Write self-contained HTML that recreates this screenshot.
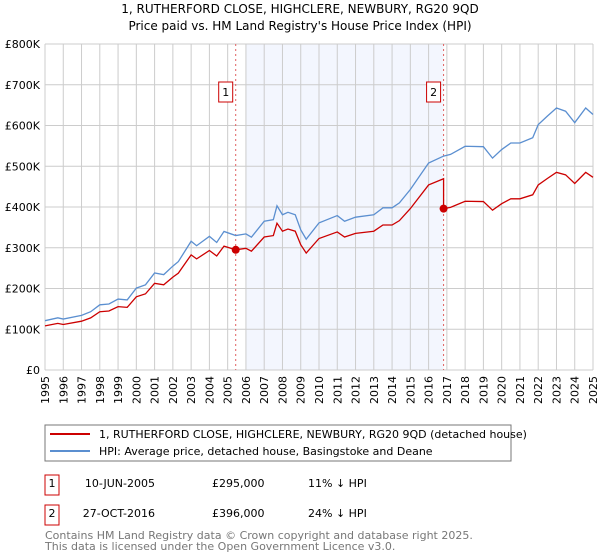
<!DOCTYPE html>
<html><head><meta charset="utf-8"><style>
body{margin:0;background:#fff;}
svg{display:block;font-family:"DejaVu Sans","Liberation Sans",sans-serif;}
</style></head><body>
<svg id="chart" width="600" height="560" viewBox="0 0 600 560" xmlns="http://www.w3.org/2000/svg">
<text x="300" y="13" text-anchor="middle" font-size="12">1, RUTHERFORD CLOSE, HIGHCLERE, NEWBURY, RG20 9QD</text>
<text x="300" y="30" text-anchor="middle" font-size="12">Price paid vs. HM Land Registry's House Price Index (HPI)</text>
<g id="plot"></g>
<g>
<rect x="45" y="425" width="466" height="36" fill="#fff" stroke="#777"/>
<line x1="50" y1="434" x2="90" y2="434" stroke="#cc0000" stroke-width="2"/>
<text x="99" y="438" font-size="11">1, RUTHERFORD CLOSE, HIGHCLERE, NEWBURY, RG20 9QD (detached house)</text>
<line x1="50" y1="451" x2="90" y2="451" stroke="#5b8fd0" stroke-width="2"/>
<text x="99" y="455" font-size="11">HPI: Average price, detached house, Basingstoke and Deane</text>
</g>
<g font-size="11">
<rect x="45" y="475" width="14" height="20" fill="#fff" stroke="#cc0000"/>
<text x="52" y="487" text-anchor="middle">1</text>
<text x="155" y="487" text-anchor="end">10-JUN-2005</text>
<text x="212" y="487">£295,000</text>
<text x="308" y="487">11% ↓ HPI</text>
<rect x="45" y="505" width="14" height="20" fill="#fff" stroke="#cc0000"/>
<text x="52" y="517" text-anchor="middle">2</text>
<text x="155" y="517" text-anchor="end">27-OCT-2016</text>
<text x="212" y="517">£396,000</text>
<text x="308" y="517">24% ↓ HPI</text>
</g>
<text x="45" y="539" font-size="11" fill="#777">Contains HM Land Registry data © Crown copyright and database right 2025.</text>
<text x="45" y="550" font-size="11" fill="#777">This data is licensed under the Open Government Licence v3.0.</text>
</svg>
<script>
const hpiYears=[1995,1995.7,1996,1997,1997.5,1998,1998.5,1999,1999.5,2000,2000.5,2001,2001.5,2002,2002.3,2003,2003.3,2004,2004.4,2004.8,2005.44,2006,2006.3,2007,2007.5,2007.7,2008,2008.3,2008.7,2009,2009.3,2010,2011,2011.4,2012,2013,2013.5,2014,2014.4,2015,2016,2016.82,2017.2,2018,2019,2019.5,2020,2020.5,2021,2021.7,2022,2022.5,2023,2023.5,2024,2024.6,2025];
const hpiValues=[121,128,125,134,143,160,162,174,172,201,209,238,234,255,266,316,305,328,313,340,330,334,326,365,369,403,381,387,381,344,321,361,379,365,375,381,398,398,410,443,508,525,529,549,548,520,541,557,557,570,602,623,643,635,607,643,627];
const saleYears=[2005.44,2016.82];
const salePrices=[295,396];
const saleLabels=["1","2"];
const yTicks=[0,100,200,300,400,500,600,700,800];
const yTickLabels=["£0","£100K","£200K","£300K","£400K","£500K","£600K","£700K","£800K"];
const xTicks=[1995,1996,1997,1998,1999,2000,2001,2002,2003,2004,2005,2006,2007,2008,2009,2010,2011,2012,2013,2014,2015,2016,2017,2018,2019,2020,2021,2022,2023,2024,2025];

const X0=45,X1=593,Y0=370,Y1=44;
const xs=y=>X0+(y-1995)/30*(X1-X0);
const ys=v=>Y0-v/800*(Y0-Y1);
const NS="http://www.w3.org/2000/svg";
const g=document.getElementById('plot');
function mk(t,a,p){const e=document.createElementNS(NS,t);for(const k in a)e.setAttribute(k,a[k]);(p||g).appendChild(e);return e;}
function hpiAt(y){for(let i=0;i<hpiYears.length-1;i++){if(y<=hpiYears[i+1]){const t=(y-hpiYears[i])/(hpiYears[i+1]-hpiYears[i]);return hpiValues[i]+t*(hpiValues[i+1]-hpiValues[i]);}}return hpiValues[hpiValues.length-1];}

const shadeStart=Math.ceil(saleYears[0]);
let sh=mk('rect',{x:xs(shadeStart),y:Y1,width:xs(saleYears[1])-xs(shadeStart),height:Y0-Y1,fill:'#f3f6fe'});


xTicks.forEach((t,i)=>{
 let l=mk('line',{x1:xs(t),x2:xs(t),y1:Y1,y2:Y0,stroke:'#cccccc','stroke-width':1});
 
 
 let tx=mk('text',{x:0,y:0,'font-size':11,'text-anchor':'end',transform:`translate(${xs(t)+4},${Y0+6}) rotate(-90)`});
 tx.textContent=t;
 
 
});
yTicks.forEach((v,i)=>{
 let l=mk('line',{x1:X0,x2:X1,y1:ys(v),y2:ys(v),stroke:'#cccccc','stroke-width':1});
 
 
 let tx=mk('text',{x:40,y:ys(v)+4,'font-size':11,'text-anchor':'end'});
 tx.textContent=yTickLabels[i];
 
 
});
saleYears.forEach((y,i)=>{
 let l=mk('line',{x1:xs(y),x2:xs(y),y1:Y1,y2:Y0,stroke:'#e06060','stroke-width':1,'stroke-dasharray':'2,3'});
 
 
 let b=mk('rect',{x:xs(y)-17,y:82,width:14,height:20,fill:'#fff',stroke:'#cc0000'});
 
 
 let t=mk('text',{x:xs(y)-10,y:96,'font-size':11,'text-anchor':'middle'});
 t.textContent=saleLabels[i];
 
 
});
let hp=mk('polyline',{points:hpiYears.map((y,i)=>xs(y)+','+ys(hpiValues[i])).join(' '),fill:'none',stroke:'#5b8fd0','stroke-width':1.3});


const r0=salePrices[0]/hpiAt(saleYears[0]);
const r1=salePrices[1]/hpiAt(saleYears[1]);
let pts=[];
hpiYears.forEach((y,i)=>{ if(y<saleYears[1]) pts.push([y,hpiValues[i]*r0]); });
pts.push([saleYears[1],hpiAt(saleYears[1])*r0]);
pts.push([saleYears[1],salePrices[1]]);
hpiYears.forEach((y,i)=>{ if(y>saleYears[1]) pts.push([y,hpiValues[i]*r1]); });
let pl=mk('polyline',{points:pts.map(p=>xs(p[0])+','+ys(p[1])).join(' '),fill:'none',stroke:'#cc0000','stroke-width':1.3});


saleYears.forEach((y,i)=>{
 let c=mk('circle',{cx:xs(y),cy:ys(salePrices[i]),r:4,fill:'#cc0000'});
 
 
});
</script>
</body></html>
